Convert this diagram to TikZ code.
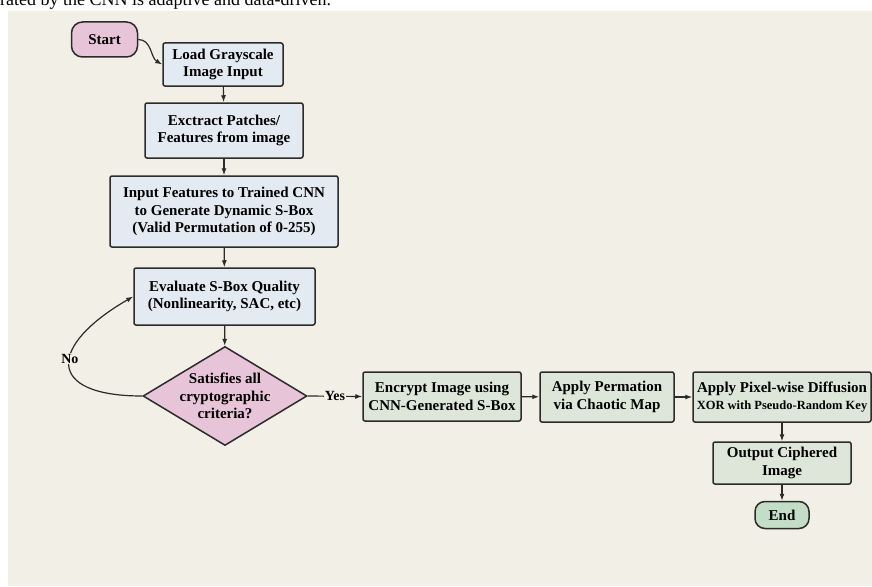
\documentclass[tikz,border=0pt]{standalone}
\usepackage{fontspec}
\setmainfont{Liberation Serif}
\usetikzlibrary{arrows.meta}
\usetikzlibrary{positioning,shapes.geometric}
\definecolor{paper}{HTML}{F2EFE6}
\definecolor{pinkfill}{HTML}{E8C4D9}
\definecolor{bluefill}{HTML}{E3EAF1}
\definecolor{greenfill}{HTML}{DDE6D8}
\definecolor{endfill}{HTML}{C3DEC6}
\definecolor{edge}{HTML}{2B2B2B}
\tikzset{
    stepbox/.style={
        draw=edge,
        line width=1.5pt,
        rounded corners=2pt,
        align=center,
        inner sep=2pt
    },
    terminal/.style={
        draw=edge,
        line width=1.5pt,
        rounded corners=11pt,
        align=center
    },
    flow/.style={
        draw=edge,
        line width=1.2pt,
        -{Latex[length=7pt, width=5pt]}
    }
}

\begin{document}
\begin{tikzpicture}[x=1pt, y=-1pt,
    every node/.style={font=\fontsize{15}{17.5}\selectfont\bfseries}]
    \useasboundingbox (0,0) rectangle (872,586);
    \fill[paper] (8,11) rectangle (872,586);
    \node[font=\fontsize{18}{20}\selectfont, anchor=base west, inner sep=0pt] (caption) at (0,5.5) {rated by the CNN is adaptive and data-driven.};

    % Left column
    \node[terminal, fill=pinkfill, minimum width=66, minimum height=35] (start) at (104.5,39.5) {Start};
    \node[stepbox, fill=bluefill, minimum width=120, minimum height=43] (load) at (223,64.5) {Load Grayscale\\Image Input};
    \node[stepbox, fill=bluefill, minimum width=158, minimum height=55] (extract) at (224,130.5) {Exctract Patches/\\Features from image};
    \node[stepbox, fill=bluefill, minimum width=228, minimum height=71] (cnn) at (224,211.5) {Input Features to Trained CNN\\to Generate Dynamic S-Box\\(Valid Permutation of 0-255)};
    \node[stepbox, fill=bluefill, minimum width=181, minimum height=57] (eval) at (224.5,296.5) {Evaluate S-Box Quality\\(Nonlinearity, SAC, etc)};
    \node[diamond, draw=edge, line width=1.5pt, fill=pinkfill, aspect=1.65, inner sep=-3pt,
        minimum width=164, minimum height=99, align=center] (check) at (225,396) {Satisfies all\\cryptographic\\criteria?};

    % Right part
    \node[stepbox, fill=greenfill, minimum width=158, minimum height=49] (encrypt) at (442,396.5) {Encrypt Image using\\CNN-Generated S-Box};
    \node[stepbox, fill=greenfill, minimum width=134, minimum height=50] (perm) at (607,397) {Apply Permation\\via Chaotic Map};
    \node[stepbox, fill=greenfill, minimum width=178, minimum height=50] (diff) at (782,397) {Apply Pixel-wise Diffusion\\{\fontsize{12.5}{15}\selectfont XOR with Pseudo-Random Key}};
    \node[stepbox, fill=greenfill, minimum width=138, minimum height=42] (output) at (782,463) {Output Ciphered\\Image};
    \node[terminal, fill=endfill, rounded corners=10pt, minimum width=54, minimum height=27] (stop) at (782,515) {End};

    % Connectors
    \draw[flow] (start.east) to[out=0, in=150] (load.west);
    \draw[flow] (load) -- (extract);
    \draw[flow] (extract) -- (cnn);
    \draw[flow] (cnn) -- (eval);
    \draw[flow] (eval) -- (check);
    \draw[flow] (check.west) to[out=180, in=210, looseness=2.5]
        node[pos=0.55, fill=paper, inner sep=1pt, font=\fontsize{14}{16}\selectfont\bfseries] {No} (eval.west);
    \draw[flow] (check.east) -- node[fill=paper, inner sep=1pt, font=\fontsize{14}{16}\selectfont\bfseries] {Yes} (encrypt.west);
    \draw[flow] (encrypt) -- (perm);
    \draw[flow] (perm) -- (diff);
    \draw[flow] (diff) -- (output);
    \draw[flow] (output) -- (stop);
\end{tikzpicture}
\end{document}
